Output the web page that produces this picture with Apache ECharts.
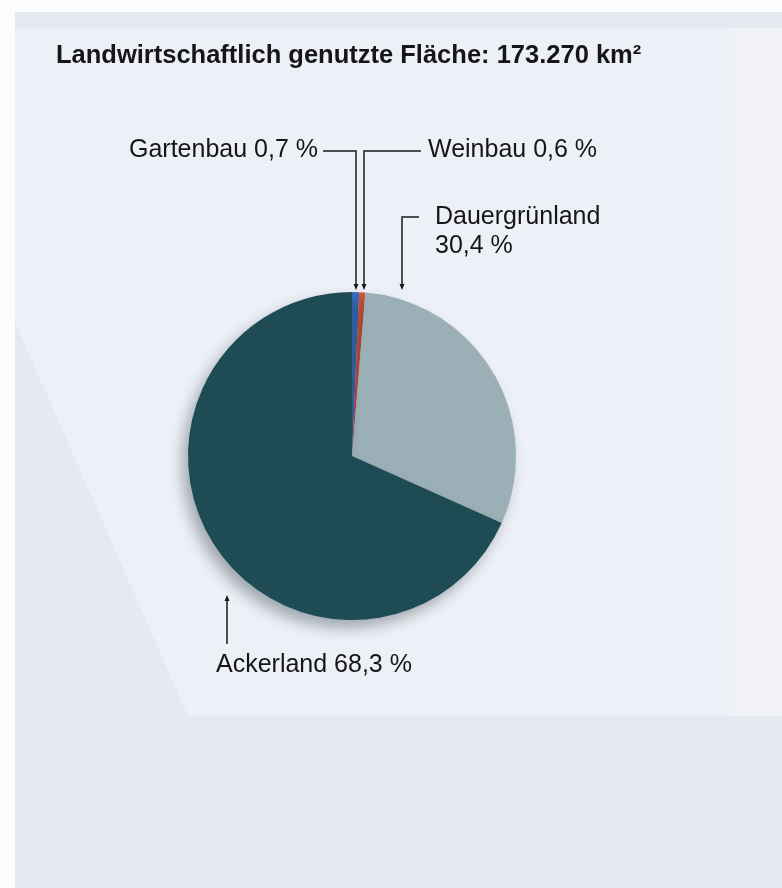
<!DOCTYPE html>
<html>
<head>
<meta charset="utf-8">
<script src="https://cdn.jsdelivr.net/npm/echarts@6/dist/echarts.min.js"></script>
<style>html,body{margin:0;padding:0;background:#e5eaf1}#c{width:782px;height:888px}</style>
</head>
<body>
<div id="c"></div>
<script>
// Data
const titleText = 'Landwirtschaftlich genutzte Fläche: 173.270 km²';
const categories = ['Gartenbau', 'Weinbau', 'Dauergrünland', 'Ackerland'];
const shares = [0.7, 0.6, 30.4, 68.3];
const labelTexts = ['Gartenbau 0,7 %', 'Weinbau 0,6 %', 'Dauergrünland\n30,4 %', 'Ackerland 68,3 %'];
const colors = ['#3b6fc2', '#d6533a', '#9bb0b6', '#1f4b55'];

// label placement (styling only)
const labelPlace = [
  {x: 318, y: 150, align: 'right', verticalAlign: 'middle', line: [[356, 288], [356, 151], [323, 151]]},
  {x: 428, y: 150, align: 'left', verticalAlign: 'middle', line: [[364, 288], [364, 151], [421, 151]]},
  {x: 435, y: 203, align: 'left', verticalAlign: 'top', line: [[402, 288], [402, 217], [419, 217]]},
  {x: 216, y: 665, align: 'left', verticalAlign: 'middle', line: [[227, 598], [227, 644]]}
];

const chart = echarts.init(document.getElementById('c'), null, {renderer: 'canvas'});
const fontFam = '"Liberation Sans", Arial, Helvetica, sans-serif';

const arrow = (x, y, dir) => ({
  type: 'polygon', silent: true, z: 10,
  shape: {points: dir === 'down'
    ? [[x - 2.5, y - 5], [x + 2.5, y - 5], [x, y + 1]]
    : [[x - 2.5, y + 5], [x + 2.5, y + 5], [x, y - 1]]},
  style: {fill: '#1a1a1a'}
});

chart.setOption({
  backgroundColor: '#e5eaf1',
  animation: false,
  title: {
    text: titleText, left: 51, top: 38,
    textStyle: {fontFamily: fontFam, fontWeight: 'bold', fontSize: 25.5, color: '#161616'}
  },
  graphic: [
    {type: 'rect', z: -10, silent: true, shape: {x: 0, y: 0, width: 782, height: 12}, style: {fill: '#fbfcfd'}},
    {type: 'rect', z: -10, silent: true, shape: {x: 0, y: 0, width: 15, height: 888}, style: {fill: '#fbfcfd'}},
    {type: 'polygon', z: -9, silent: true,
      shape: {points: [[15, 28], [735, 28], [735, 716], [188, 716], [15, 322]]},
      style: {fill: '#edf0f6'}},
    {type: 'rect', z: -8, silent: true, shape: {x: 735, y: 28, width: 47, height: 688}, style: {fill: '#f1f3f7'}},
    arrow(356, 289, 'down'),
    arrow(364, 289, 'down'),
    arrow(402, 289, 'down'),
    arrow(227, 596, 'up')
  ],
  series: [{
    type: 'pie',
    center: [352, 456],
    radius: 164,
    startAngle: 90,
    clockwise: true,
    avoidLabelOverlap: false,
    itemStyle: {
      borderWidth: 0,
      shadowColor: 'rgba(20,40,50,0.35)', shadowBlur: 14, shadowOffsetX: -6, shadowOffsetY: 8
    },
    label: {
      show: true,
      color: '#161616', fontFamily: fontFam, fontSize: 25, lineHeight: 29,
      formatter: p => labelTexts[p.dataIndex]
    },
    labelLine: {show: true, length: 10, length2: 10, smooth: false,
      lineStyle: {color: '#1a1a1a', width: 1.5}},
    labelLayout: function (params) {
      const p = labelPlace[params.dataIndex];
      return {x: p.x, y: p.y, align: p.align, verticalAlign: p.verticalAlign, labelLinePoints: p.line};
    },
    data: categories.map((c, i) => ({name: c, value: shares[i], itemStyle: {color: colors[i]}}))
  }]
});
</script>
</body>
</html>
